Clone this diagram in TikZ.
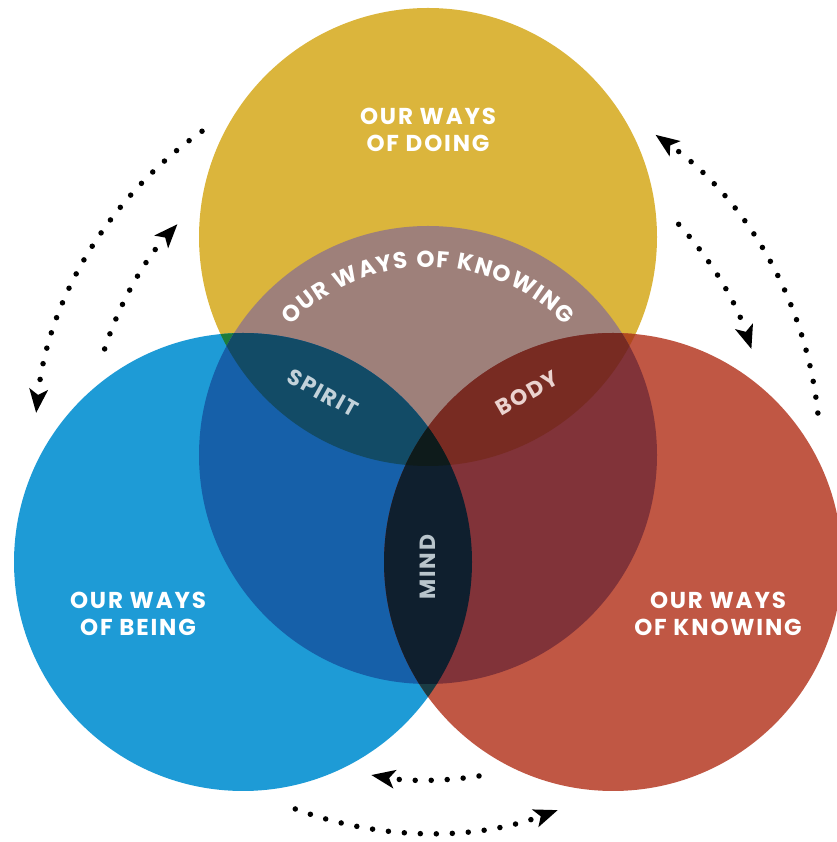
\documentclass[tikz,border=0pt]{standalone}
\usepackage{fontspec}
\setmainfont{Poppins}[LetterSpace=8]
\newfontfamily\arcfont{Poppins}
\usetikzlibrary{arrows.meta, decorations.text}

\definecolor{doingcol}{HTML}{DBB53C}
\definecolor{beingcol}{HTML}{1E9BD6}
\definecolor{knowcol}{HTML}{C05744}
\definecolor{coreyel}{HTML}{9E807A}
\definecolor{coreblue}{HTML}{1660A9}
\definecolor{corered}{HTML}{813339}
\definecolor{spiritcol}{HTML}{124B66}
\definecolor{bodycol}{HTML}{782B22}
\definecolor{mindcol}{HTML}{0F1F2E}
\definecolor{allcol}{HTML}{0E1B1B}
\definecolor{yelblue}{HTML}{1E7B3A}
\definecolor{yelred}{HTML}{B04A1E}
\definecolor{bluered}{HTML}{1A3C44}
\definecolor{spiritfg}{HTML}{C2D2DA}
\definecolor{bodyfg}{HTML}{EBD3CF}
\definecolor{mindfg}{HTML}{B9C5CC}

\tikzset{
  title/.style={font=\bfseries\fontsize{23}{27}\selectfont, text=white, align=center, inner sep=0pt},
  part/.style={font=\bfseries\fontsize{22}{24}\selectfont, inner sep=0pt},
  cycle/.style={line width=5.5pt, line cap=round, dash pattern=on 0pt off 16pt,
    -{Stealth[length=24pt, width=19pt, inset=6pt, line width=0pt]}},
}

\begin{document}
\begin{tikzpicture}[x=1pt, y=1pt]
  \useasboundingbox (0,0) rectangle (836,842);
  \def\rad{229pt}
  \coordinate (doing) at (428,605);
  \coordinate (being) at (243,280);
  \coordinate (knowing) at (613,280);
  \coordinate (core) at (428,387);
  \coordinate (hub) at (428,388);
  \coordinate (arccentre) at (428,384);

  % the three big circles
  \fill[doingcol] (doing) circle[radius=\rad];
  \fill[beingcol] (being) circle[radius=\rad];
  \fill[knowcol] (knowing) circle[radius=\rad];

  % pairwise overlaps outside the middle circle
  \begin{scope}
    \clip (doing) circle[radius=\rad];
    \fill[yelblue] (being) circle[radius=\rad];
    \fill[yelred] (knowing) circle[radius=\rad];
  \end{scope}
  \begin{scope}
    \clip (being) circle[radius=\rad];
    \fill[bluered] (knowing) circle[radius=\rad];
  \end{scope}

  % middle circle and its overlaps
  \begin{scope}
    \clip (core) circle[radius=\rad];
    \fill[coreyel] (doing) circle[radius=\rad];
    \fill[coreblue] (being) circle[radius=\rad];
    \fill[corered] (knowing) circle[radius=\rad];
    \begin{scope}
      \clip (doing) circle[radius=\rad];
      \fill[spiritcol] (being) circle[radius=\rad];
      \fill[bodycol] (knowing) circle[radius=\rad];
    \end{scope}
    \begin{scope}
      \clip (being) circle[radius=\rad];
      \fill[mindcol] (knowing) circle[radius=\rad];
      \clip (doing) circle[radius=\rad];
      \fill[allcol] (knowing) circle[radius=\rad];
    \end{scope}
  \end{scope}

  % labels
  \node[title] (doingtxt) at (428,712) {OUR WAYS\\OF DOING};
  \node[title] (beingtxt) at (138,228) {OUR WAYS\\OF BEING};
  \node[title] (knowingtxt) at (718,228) {OUR WAYS\\OF KNOWING};
  \node[part, text=spiritfg, rotate=-29] (spirit) at (323,449) {SPIRIT};
  \node[part, text=bodyfg, rotate=30] (body) at (527,449) {BODY};
  \node[part, text=mindfg, rotate=90] (mind) at (428,275) {MIND};

  \path[decorate, decoration={text along path, text align=fit to path, text color=white,
      text={|\arcfont\bfseries\fontsize{23}{25}\selectfont|OUR WAYS OF KNOWING}}]
    ([shift={(136:191pt)}]arccentre) arc[start angle=136, end angle=44, radius=191pt];

  % dotted cycle arrows
  \coordinate (lo) at ([shift={(125:394pt)}]hub);
  \coordinate (li) at ([shift={(162:340pt)}]hub);
  \coordinate (ro) at ([shift={(6:392pt)}]hub);
  \coordinate (ri) at ([shift={(42.5:340pt)}]hub);
  \coordinate (bo) at ([shift={(-110.5:379pt)}]hub);
  \coordinate (bi) at ([shift={(-81:326pt)}]hub);
  \draw[cycle] (lo) arc[start angle=125, end angle=174, radius=394pt];
  \draw[cycle] (li) arc[start angle=162, end angle=137.5, radius=340pt];
  \draw[cycle] (ro) arc[start angle=6, end angle=54.5, radius=392pt];
  \draw[cycle] (ri) arc[start angle=42.5, end angle=18, radius=340pt];
  \draw[cycle] (bo) arc[start angle=-110.5, end angle=-70, radius=379pt];
  \draw[cycle] (bi) arc[start angle=-81, end angle=-100, radius=326pt];
\end{tikzpicture}
\end{document}
